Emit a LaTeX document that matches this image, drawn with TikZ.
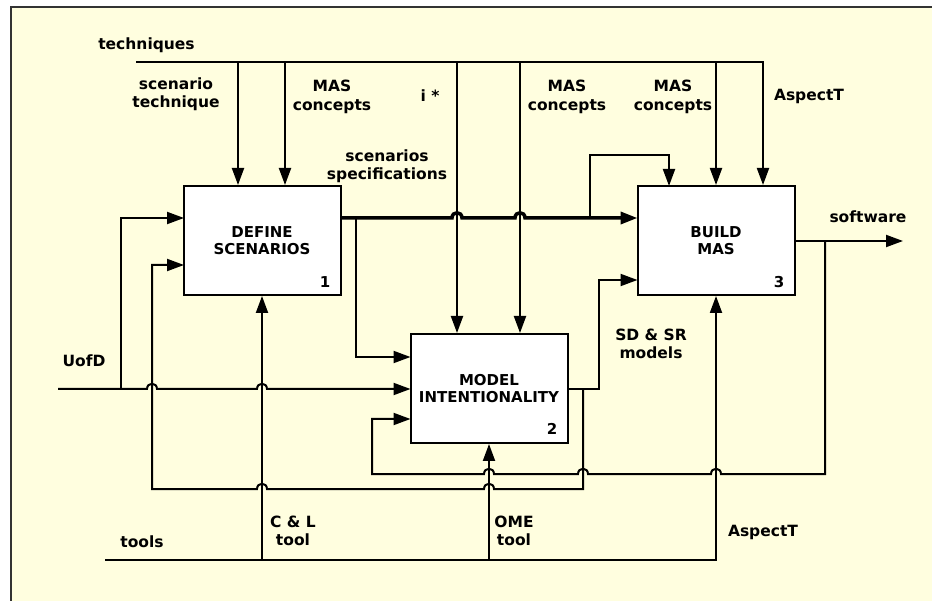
\documentclass[tikz,border=0pt]{standalone}
\usepackage{fontspec}
\setmainfont{DejaVu Sans}
\usetikzlibrary{arrows.meta}
\definecolor{bgyellow}{HTML}{FFFEDF}
\definecolor{framegray}{HTML}{333333}
\newcommand\lblfont{\fontsize{15.5}{18.5}\selectfont\bfseries}
\newcommand\boxfont{\fontsize{15}{16.5}\selectfont\bfseries}
\tikzset{
  wire/.style={line width=2pt, draw=black},
  thickwire/.style={line width=3.5pt, draw=black},
  arr/.style={-{Triangle[length=17pt,width=12pt]}},
  procbox/.style={draw=black, line width=2pt, fill=white, minimum width=157pt, minimum height=109pt, inner sep=0pt, align=center, font=\boxfont},
  num/.style={font=\boxfont, inner sep=0pt, anchor=base east},
  lbl/.style={font=\lblfont, inner sep=0pt, align=center},
  hopR/.style 2 args={insert path={-- ({#1-5},#2) .. controls ({#1-5},{#2-7}) and ({#1+5},{#2-7}) .. ({#1+5},#2)}},
  hopL/.style 2 args={insert path={-- ({#1+5},#2) .. controls ({#1+5},{#2-7}) and ({#1-5},{#2-7}) .. ({#1-5},#2)}},
}
\begin{document}
\begin{tikzpicture}[x=1pt,y=-1pt]
\useasboundingbox (0,0) rectangle (932,601);
\fill[white] (0,0) rectangle (932,601);
\draw[draw=framegray, line width=2.8pt, fill=bgyellow] (11,7) rectangle (960,640);

% boxes
\node[procbox] (b1) at (262,240.5) {DEFINE\\SCENARIOS};
\node[procbox] (b2) at (489,388.5) {MODEL\\INTENTIONALITY};
\node[procbox] (b3) at (716,240.5) {BUILD\\MAS};
\node[num] (n1) at ([shift={(-11,-8)}]b1.south east) {1};
\node[num] (n2) at ([shift={(-11,-9)}]b2.south east) {2};
\node[num] (n3) at ([shift={(-11,-8)}]b3.south east) {3};

% labels
\node[lbl] (lt) at (146.5,45) {techniques};
\node[lbl] (lst) at (176,94) {scenario\\technique};
\node[lbl] (lmc1) at (332,97) {MAS\\concepts};
\node[lbl] (li) at (430,96) {i *};
\node[lbl] (lmc2) at (567,97) {MAS\\concepts};
\node[lbl] (lmc3) at (673,97) {MAS\\concepts};
\node[lbl] (la1) at (809,96) {AspectT};
\node[lbl] (lss) at (387,166) {scenarios\\specifications};
\node[lbl] (lsw) at (868,217) {software};
\node[lbl] (lsd) at (651,344) {SD \& SR\\models};
\node[lbl] (lu) at (84,361) {UofD};
\node[lbl] (ltools) at (142,542) {tools};
\node[lbl] (lcl) at (293,531) {C \& L\\tool};
\node[lbl] (lome) at (514,531) {OME\\tool};
\node[lbl] (la2) at (763,532) {AspectT};

% coordinates
\coordinate (tL) at (136,62);
\coordinate (t1) at (238,62);
\coordinate (t2) at (285,62);
\coordinate (t3) at (457,62);
\coordinate (t4) at (520,62);
\coordinate (t5) at (716,62);
\coordinate (t6) at (763,62);
\coordinate (b1i1) at (184,218);
\coordinate (b1i2) at (184,265);
\coordinate (b1o) at (340,218);
\coordinate (b2i1) at (410.5,357);
\coordinate (b2i2) at (410.5,389);
\coordinate (b2i3) at (410.5,419);
\coordinate (b2o) at (567.5,389);
\coordinate (b3i1) at (637.5,218);
\coordinate (b3i2) at (637.5,280);
\coordinate (b3o) at (794.5,241);
\coordinate (sw) at (903,241);
\coordinate (uL) at (58,389);
\coordinate (toolL) at (105,560);
\coordinate (toolR) at (716,560);
\coordinate (tc1) at (262,560);
\coordinate (tc2) at (489,560);

% techniques
\draw[wire,arr] (tL) -- (t6) -- (t6 |- b3.north);
\draw[wire,arr] (t1) -- (t1 |- b1.north);
\draw[wire,arr] (t2) -- (t2 |- b1.north);
\draw[wire,arr] (t3) -- (t3 |- b2.north);
\draw[wire,arr] (t4) -- (t4 |- b2.north);
\draw[wire,arr] (t5) -- (t5 |- b3.north);

% scenarios specifications
\draw[thickwire,arr] (b1o) [hopR={457}{218}] [hopR={520}{218}] -- (b3i1);
\draw[wire,arr] (356,218) -- (356,357) -- (b2i1);
\draw[wire,arr] (590,218) -- (590,155) -- (669,155) -- (669,186);

% SD & SR models
\draw[wire,arr] (b2o) -- (599,389) -- (599,280) -- (b3i2);
\draw[wire,arr] (583,389) -- (583,489) [hopL={489}{489}] [hopL={262}{489}] -- (152,489) -- (152,265) -- (b1i2);

% software
\draw[wire,arr] (b3o) -- (sw);
\draw[wire,arr] (825,241) -- (825,474) [hopL={716}{474}] [hopL={583}{474}] [hopL={489}{474}] -- (372,474) -- (372,419) -- (b2i3);

% UofD
\draw[wire,arr] (uL) [hopR={152}{389}] [hopR={262}{389}] -- (b2i2);
\draw[wire,arr] (121,389) -- (121,218) -- (b1i1);

% tools
\draw[wire,arr] (toolL) -- (toolR) -- (b3.south);
\draw[wire,arr] (tc1) -- (b1.south);
\draw[wire,arr] (tc2) -- (b2.south);
\end{tikzpicture}
\end{document}
